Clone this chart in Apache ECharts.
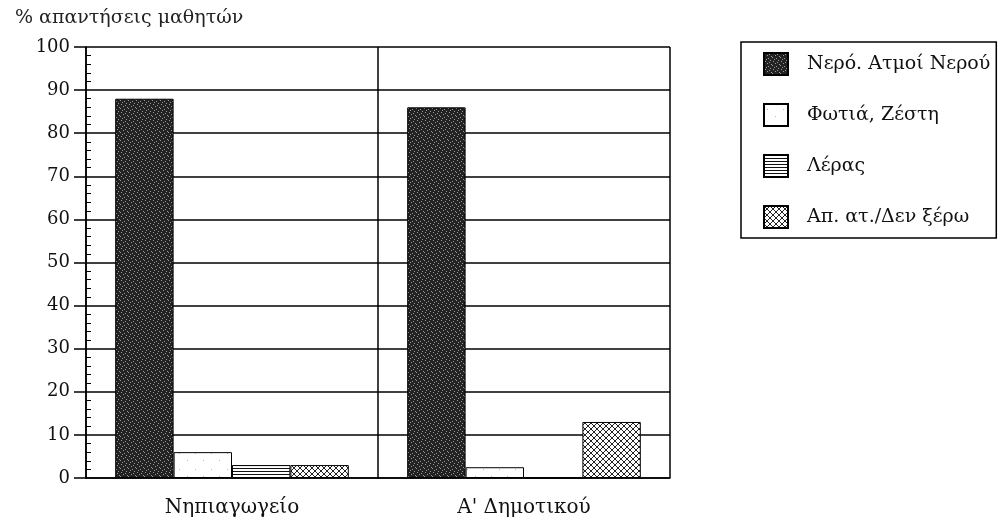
<!DOCTYPE html>
<html>
<head>
<meta charset="utf-8">
<script src="https://cdn.jsdelivr.net/npm/echarts@6/dist/echarts.min.js"></script>
<style>
html, body { margin: 0; padding: 0; background: #fff; }
#chart { width: 1007px; height: 524px; }
</style>
</head>
<body>
<div id="chart"></div>
<script>
// δεδομένα
var categories = ['Νηπιαγωγείο', 'Α\' Δημοτικού'];
var seriesNames = ['Νερό. Ατμοί Νερού', 'Φωτιά, Ζέστη', 'Λέρας', 'Απ. ατ./Δεν ξέρω'];
var waterVals = [88, 86];
var fireVals = [6, 2.5];
var airVals = [3, 0];
var unknownVals = [3, 13];
var yTicks = [0, 100, 10];

// μοτίβα γεμίσματος
function pattern(kind) {
    var c = document.createElement('canvas');
    var ctx = c.getContext('2d');
    if (kind === 'water') {
        c.width = 8; c.height = 8;
        ctx.fillStyle = '#222';
        ctx.fillRect(0, 0, 8, 8);
        ctx.fillStyle = '#999';
        [[1,0],[5,1],[3,2],[7,3],[0,4],[4,5],[2,6],[6,7]].forEach(function (p) {
            ctx.fillRect(p[0], p[1], 1, 1);
        });
    } else if (kind === 'fire') {
        c.width = 16; c.height = 16;
        ctx.fillStyle = '#fff';
        ctx.fillRect(0, 0, 16, 16);
        ctx.fillStyle = '#bbb';
        ctx.fillRect(3, 5, 1, 1);
        ctx.fillRect(11, 12, 1, 1);
    } else if (kind === 'air') {
        c.width = 4; c.height = 3;
        ctx.fillStyle = '#fff';
        ctx.fillRect(0, 0, 4, 3);
        ctx.fillStyle = '#111';
        ctx.fillRect(0, 0, 4, 1);
    } else {
        c.width = 6; c.height = 6;
        ctx.fillStyle = '#fff';
        ctx.fillRect(0, 0, 6, 6);
        ctx.strokeStyle = '#222';
        ctx.lineWidth = 1;
        ctx.beginPath();
        ctx.moveTo(0, 0); ctx.lineTo(6, 6);
        ctx.moveTo(6, 0); ctx.lineTo(0, 6);
        ctx.stroke();
    }
    return { image: c, repeat: 'repeat' };
}

var fontFam = 'DejaVu Serif';
var myChart = echarts.init(document.getElementById('chart'));

function bar(name, data, kind) {
    return {
        name: name,
        type: 'bar',
        data: data,
        barGap: 0,
        barCategoryGap: '20%',
        itemStyle: {
            color: pattern(kind),
            borderColor: '#000',
            borderWidth: 1
        }
    };
}

var option = {
    animation: false,
    backgroundColor: '#fff',
    textStyle: { fontFamily: fontFam, color: '#000' },
    title: {
        text: '% απαντήσεις μαθητών',
        left: 10,
        top: 4,
        textStyle: { fontFamily: fontFam, fontSize: 19, fontWeight: 'normal', color: '#222' }
    },
    legend: {
        orient: 'vertical',
        left: 741,
        top: 42,
        padding: [10, 6, 9, 22],
        itemWidth: 24,
        itemHeight: 22,
        itemGap: 27,
        icon: 'rect',
        borderColor: '#000',
        borderWidth: 1.5,
        borderRadius: 0,
        textStyle: { fontFamily: fontFam, fontSize: 19, color: '#111', padding: [0, 0, 0, 14] },
        data: seriesNames
    },
    grid: { left: 86, right: 337, top: 47, bottom: 46 },
    xAxis: {
        type: 'category',
        data: categories,
        axisLine: { lineStyle: { color: '#000', width: 1.5 } },
        axisTick: { length: 11, lineStyle: { color: '#000', width: 1.5 } },
        axisLabel: { fontFamily: fontFam, fontSize: 20, color: '#111', margin: 20 },
        splitLine: { show: true, lineStyle: { color: '#000', width: 1.5 } }
    },
    yAxis: [{
        type: 'value',
        min: yTicks[0],
        max: yTicks[1],
        interval: yTicks[2],
        axisLine: { show: true, lineStyle: { color: '#000', width: 1.5 } },
        axisTick: { show: true, length: 12, lineStyle: { color: '#000', width: 1.5 } },
        axisLabel: { fontFamily: fontFam, fontSize: 18, color: '#111', margin: 16 },
        splitLine: { show: true, lineStyle: { color: '#000', width: 1.5 } }
    }, {
        // μικρές υποδιαιρέσεις προς τα μέσα
        type: 'value',
        position: 'left',
        min: yTicks[0],
        max: yTicks[1],
        interval: yTicks[2],
        axisLine: { show: false },
        axisTick: { show: true, inside: true, length: 0 },
        minorTick: { show: true, splitNumber: 5, length: 5, lineStyle: { color: '#000', width: 1 } },
        axisLabel: { show: false },
        splitLine: { show: false }
    }],
    series: [
        bar(seriesNames[0], waterVals, 'water'),
        bar(seriesNames[1], fireVals, 'fire'),
        bar(seriesNames[2], airVals, 'air'),
        bar(seriesNames[3], unknownVals, 'unknown')
    ]
};
myChart.setOption(option);
</script>
</body>
</html>
